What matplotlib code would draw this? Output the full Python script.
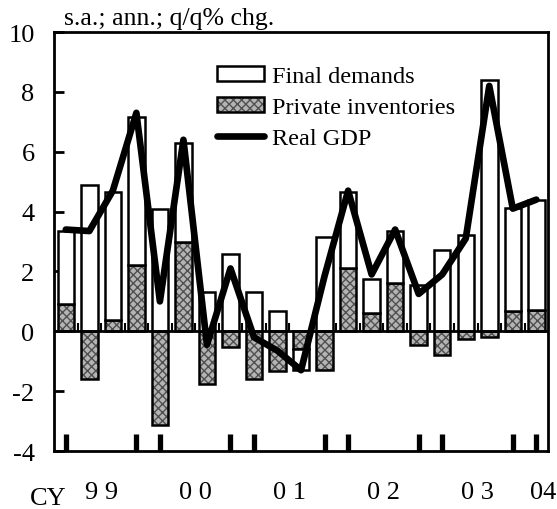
import numpy as np
import matplotlib.pyplot as plt
from matplotlib.patches import Patch
from matplotlib.lines import Line2D

# quarterly data, CY1999Q1 - CY2004Q1
quarters = ["99Q1", "99Q2", "99Q3", "99Q4", "00Q1", "00Q2", "00Q3", "00Q4",
            "01Q1", "01Q2", "01Q3", "01Q4", "02Q1", "02Q2", "02Q3", "02Q4",
            "03Q1", "03Q2", "03Q3", "03Q4", "04Q1"]
final_demands = [2.45, 4.9, 4.28, 4.93, 4.1, 3.28, 1.3, 2.6, 1.33, 0.69, -0.7,
                 3.15, 2.56, 1.14, 1.73, 1.56, 2.72, 3.21, 8.4, 3.44, 3.69]
private_inv = [0.9, -1.6, 0.37, 2.22, -3.14, 3.0, -1.75, -0.53, -1.61, -1.33, -0.6,
               -1.3, 2.11, 0.61, 1.63, -0.47, -0.8, -0.25, -0.2, 0.67, 0.7]
real_gdp = [3.4, 3.35, 4.7, 7.3, 1.0, 6.4, -0.45, 2.1, -0.2, -0.65, -1.3,
            1.85, 4.7, 1.9, 3.4, 1.25, 1.9, 3.1, 8.2, 4.1, 4.4]
year_labels = ["9 9", "0 0", "0 1", "0 2", "0 3", "04"]

plt.rcParams["font.family"] = ["Liberation Serif", "DejaVu Serif"]
plt.rcParams["axes.unicode_minus"] = False

fig = plt.figure(figsize=(5.57, 5.10), dpi=100)
ax = fig.add_axes([0.097, 0.1137, 0.887, 0.8215])

x = np.arange(len(quarters))
fd = np.array(final_demands)
inv = np.array(private_inv)
fd_bottom = np.where(np.sign(fd) == np.sign(inv), inv, 0)
w = 0.7

# inventories: hatched fill + black outline
hatch_kw = dict(facecolor="#b4b4b4", edgecolor="#505050", hatch="xxxx", linewidth=0)
ax.bar(x, inv, width=w, zorder=2, **hatch_kw)
ax.bar(x, inv, width=w, fill=False, edgecolor="black", linewidth=1.8, zorder=2)
ax.bar(x, fd, bottom=fd_bottom, width=w, color="white", edgecolor="black",
       linewidth=1.8, zorder=2)

ax.axhline(0, color="black", lw=2, zorder=3)
ax.vlines(x[:-1] + 0.5, 0, 0.28, color="black", lw=1.5, zorder=3)

ax.plot(x, real_gdp, color="black", lw=4.8, solid_joinstyle="round",
        solid_capstyle="round", zorder=4)

ax.set_xlim(-0.5, 20.5)
ax.set_ylim(-4, 10)
ax.set_yticks(range(-4, 11, 2))
ax.tick_params(axis="y", direction="in", length=7, width=2, pad=14, labelsize=19)

# thick ticks at Q4/Q1 (year boundaries)
boundary = [i for i, q in enumerate(quarters) if q.endswith("Q1") or q.endswith("Q4")]
ax.set_xticks(boundary)
ax.tick_params(axis="x", direction="in", length=12, width=3.8, labelbottom=False)
for s in ax.spines.values():
    s.set_linewidth(2)

# year labels under the axis
years = sorted(set(q[:2] for q in quarters), key=lambda y: quarters.index(y + "Q1"))
for lab, yr in zip(year_labels, years):
    idx = [i for i, q in enumerate(quarters) if q.startswith(yr)]
    pos = np.mean(idx)
    if len(idx) == 1:
        pos += 0.3
    ax.text(pos, -0.112, lab, transform=ax.get_xaxis_transform(),
            ha="center", va="baseline", fontsize=19)
fig.text(30 / 557, 0.01, "CY", fontsize=19, va="baseline", ha="left")

fig.text(64 / 557, 0.95, "s.a.; ann.; q/q% chg.", fontsize=18.5, va="baseline")

handles = [
    Patch(facecolor="white", edgecolor="black", linewidth=1.8),
    (Patch(**hatch_kw), Patch(fill=False, edgecolor="black", linewidth=1.8)),
    Line2D([0], [0], color="black", lw=4.8, solid_capstyle="round"),
]
labels = ["Final demands", "Private inventories", "Real GDP"]
ax.legend(handles, labels, loc="upper left", bbox_to_anchor=(0.330, 0.918),
          frameon=False, fontsize=17.5, handlelength=1.95, handleheight=0.55,
          handletextpad=0.3, labelspacing=0.4, borderpad=0, borderaxespad=0)

fig.savefig("out.png", dpi=100)
